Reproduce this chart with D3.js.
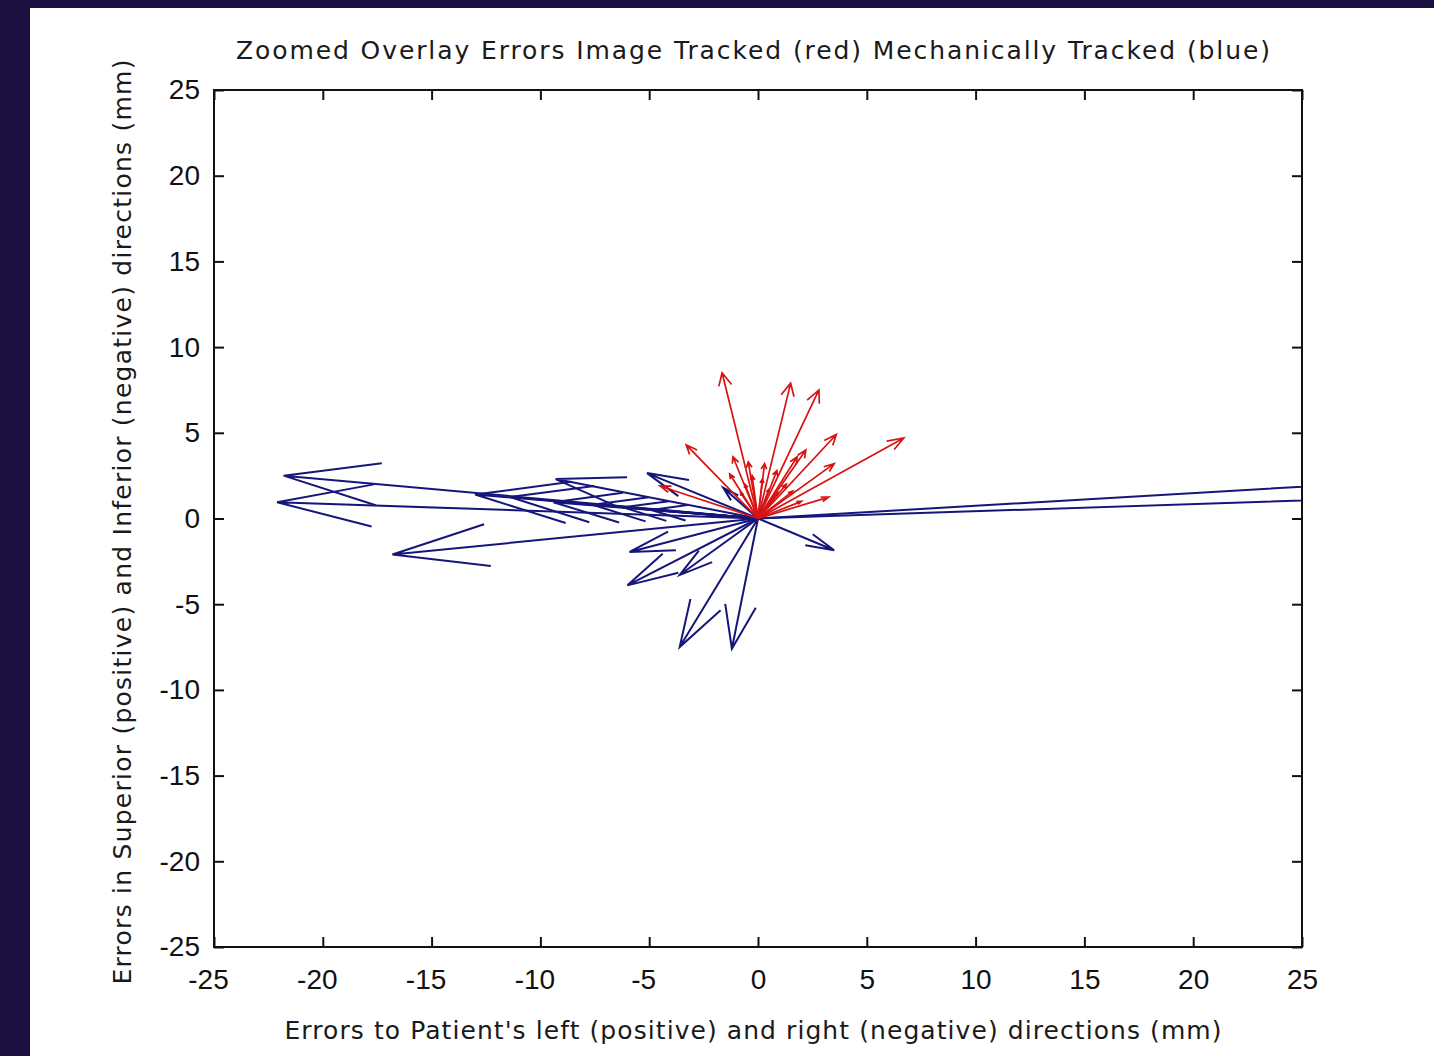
<!DOCTYPE html>
<html>
<head>
<meta charset="utf-8">
<script src="https://cdn.jsdelivr.net/npm/d3@7"></script>
<style>
  html, body { margin: 0; padding: 0; background: #1b1040; }
  svg { display: block; }
</style>
</head>
<body>
<svg id="chart" width="1434" height="1056"></svg>
<script>
// ---- data (tips of quiver arrows, all starting at origin) ----
const redU  = [-1.65, 1.5, 2.8, 3.6, 6.7, -3.3, 2.2, 3.5, 3.25, -4.5, -1.15, -0.45, 0.3, 0.87, -0.27, 1.8, 1.3, 0.5, -0.8, 2.0, -0.6, 0.9, 0.2, -1.3, 1.6];
const redV  = [ 8.5, 7.9, 7.5, 4.9, 4.7,  4.3, 4.0, 3.2, 1.25,  1.9,  3.6,   3.3,  3.2, 2.8,  2.5,  3.6, 2.0, 1.7,  1.5, 1.0,  2.0, 1.5, 2.3,  2.6, 1.6];
const blueU = [-21.8, -22.1, -16.8, -13.0, -9.3, -11.4, -9.4, -7.6, -6.2, -5.1, -5.9, -6.0, -3.6, -3.6, -1.2, 3.5, 31, 32, -1.6, -4.9];
const blueV = [  2.5,  0.95,  -2.1,   1.4,  2.3,  1.25, 0.95,  0.8, 0.65, 2.65, -1.95, -3.9, -3.3, -7.5, -7.6, -1.85, 2.3, 1.35, 1.8, 0.5];
const xTicks = [-25, -20, -15, -10, -5, 0, 5, 10, 15, 20, 25];
const yTicks = [-25, -20, -15, -10, -5, 0, 5, 10, 15, 20, 25];
const titleText = "Zoomed Overlay Errors Image Tracked (red) Mechanically Tracked (blue)";
const xLabelText = "Errors to Patient's left (positive) and right (negative) directions (mm)";
const yLabelText = "Errors in Superior (positive) and Inferior (negative) directions (mm)";

const svg = d3.select("#chart");
const W = 1434, H = 1056;
svg.append("rect").attr("width", W).attr("height", H).attr("fill", "#1b1040");
svg.append("rect").attr("x", 30).attr("y", 8).attr("width", W - 30).attr("height", H - 8).attr("fill", "#ffffff");

const L = 214, R = 1302, T = 90, B = 947;
const x = d3.scaleLinear().domain([-25, 25]).range([L, R]);
const y = d3.scaleLinear().domain([-25, 25]).range([B, T]);

svg.append("defs").append("clipPath").attr("id", "clip")
  .append("rect").attr("x", L).attr("y", T).attr("width", R - L).attr("height", B - T);

// arrows (MATLAB quiver style heads)
function arrowPath(u, v, alphaMax, headCap, beta) {
  const len = Math.hypot(u, v);
  const head = Math.min(alphaMax * len, headCap);
  const a = head / len;
  const b1 = [u - a * (u + beta * v), v - a * (v - beta * u)];
  const b2 = [u - a * (u - beta * v), v - a * (v + beta * u)];
  const p = d3.path();
  p.moveTo(x(0), y(0)); p.lineTo(x(u), y(v));
  p.moveTo(x(b1[0]), y(b1[1])); p.lineTo(x(u), y(v)); p.lineTo(x(b2[0]), y(b2[1]));
  return p.toString();
}
const g = svg.append("g").attr("clip-path", "url(#clip)");
const blue = blueU.map((u, i) => [u, blueV[i]]);
const red = redU.map((u, i) => [u, redV[i]]);
g.selectAll("path.blue").data(blue).join("path").attr("class", "blue")
  .attr("d", d => arrowPath(d[0], d[1], 0.33, 4.4, 0.28))
  .attr("fill", "none").attr("stroke", "#16167a").attr("stroke-width", 2);
g.selectAll("path.red").data(red).join("path").attr("class", "red")
  .attr("d", d => arrowPath(d[0], d[1], 0.1, 0.75, 0.4))
  .attr("fill", "none").attr("stroke", "#d81212").attr("stroke-width", 1.7);

// axes
const tickFont = "'Liberation Sans', Arial, sans-serif";
const fmt = d => String(d);
const axB = svg.append("g").attr("transform", `translate(0,${B})`)
  .call(d3.axisBottom(x).tickValues(xTicks).tickFormat(fmt).tickSizeInner(-10).tickSizeOuter(0).tickPadding(22));
const axL = svg.append("g").attr("transform", `translate(${L},0)`)
  .call(d3.axisLeft(y).tickValues(yTicks).tickFormat(fmt).tickSizeInner(-10).tickSizeOuter(0).tickPadding(14));
const axT = svg.append("g").attr("transform", `translate(0,${T})`)
  .call(d3.axisTop(x).tickValues(xTicks).tickSizeInner(-10).tickSizeOuter(0).tickFormat(""));
const axR = svg.append("g").attr("transform", `translate(${R},0)`)
  .call(d3.axisRight(y).tickValues(yTicks).tickSizeInner(-10).tickSizeOuter(0).tickFormat(""));
[axB, axL, axT, axR].forEach(a => {
  a.select(".domain").remove();
  a.selectAll("line").attr("stroke", "#111").attr("stroke-width", 2);
  a.selectAll("text").style("font-size", "28px").style("font-family", tickFont).style("fill", "#111");
});
axB.selectAll("text").attr("dx", d => d < 0 ? -6 : 0);
svg.append("rect").attr("x", L).attr("y", T).attr("width", R - L).attr("height", B - T)
  .attr("fill", "none").attr("stroke", "#111").attr("stroke-width", 2);

// labels
const labFont = "'DejaVu Sans', 'Liberation Sans', Arial, sans-serif";
function label(sel) {
  return sel.attr("text-anchor", "middle").style("font-size", "25px")
    .style("font-family", labFont).style("fill", "#1a1a1a").attr("lengthAdjust", "spacing");
}
label(svg.append("text").attr("x", 753).attr("y", 59)).attr("textLength", 1034).text(titleText);
label(svg.append("text").attr("x", 753).attr("y", 1039)).attr("textLength", 937).text(xLabelText);
label(svg.append("text").attr("transform", "translate(131,522) rotate(-90)")).attr("textLength", 925).text(yLabelText);
</script>
</body>
</html>
